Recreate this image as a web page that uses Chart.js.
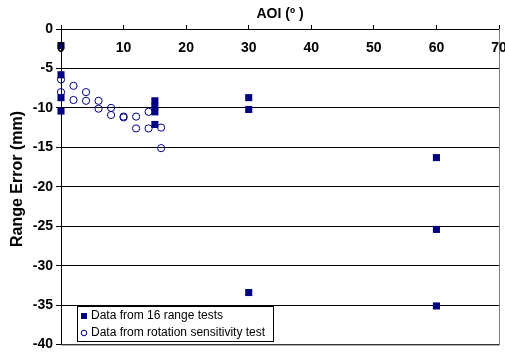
<!DOCTYPE html>
<html>
<head>
<meta charset="utf-8">
<script src="https://cdn.jsdelivr.net/npm/chart.js@4"></script>
<style>
  body { margin: 0; background: #fff; }
</style>
</head>
<body>
<canvas id="errChart" width="505" height="356"></canvas>
<script>
// data
const rangeAOI = [0, 0, 0, 0, 15, 15, 15, 15, 30, 30, 30, 60, 60, 60];
const rangeErr = [-2.1, -5.8, -8.7, -10.4, -9.1, -9.9, -10.5, -12.1, -8.7, -10.2, -33.4, -16.3, -25.4, -35.1];

const rotAOI = [0, 0, 2, 2, 4, 4, 6, 6, 8, 8, 10, 10, 12, 12, 14, 14, 16, 16];
const rotErr = [-6.4, -8.0, -7.2, -9.0, -8.0, -9.1, -9.1, -10.1, -10.0, -10.9, -11.1, -11.2, -11.1, -12.6, -10.5, -12.6, -12.5, -15.1];

const xTicks = [0, 10, 20, 30, 40, 50, 60, 70];
const legendLabels = ["Data from 16 range tests", "Data from rotation sensitivity test"];

const navy = "#000080";
const fontFam = "'Liberation Sans', Arial, sans-serif";

function toPoints(xs, ys) {
  return xs.map((x, i) => ({ x: x, y: ys[i] }));
}

// x labels sit under the top axis line, y title, frame and the floating legend
const extras = {
  id: "extras",
  beforeDatasetsDraw(chart) {
    const ctx = chart.ctx;
    const a = chart.chartArea;
    ctx.save();
    ctx.strokeStyle = "#808080";
    ctx.lineWidth = 1;
    ctx.beginPath();
    ctx.moveTo(a.right + 0.5, a.top);
    ctx.lineTo(a.right + 0.5, a.bottom + 0.5);
    ctx.lineTo(a.left, a.bottom + 0.5);
    ctx.stroke();
    ctx.restore();
  },
  afterDraw(chart) {
    const ctx = chart.ctx;
    const xs = chart.scales.x;
    const a = chart.chartArea;
    ctx.save();
    ctx.fillStyle = "#000";
    ctx.font = "bold 14px " + fontFam;
    ctx.textAlign = "center";
    ctx.textBaseline = "middle";
    xTicks.forEach(v => {
      ctx.fillText(String(v), xs.getPixelForValue(v), a.top + 19);
    });

    // y title
    ctx.save();
    ctx.translate(18, 179);
    ctx.rotate(-Math.PI / 2);
    ctx.font = "bold 16px " + fontFam;
    ctx.fillText("Range Error (mm)", 0, 0);
    ctx.restore();

    // legend box
    const lx = 77, ly = 306, lw = 196, lh = 35;
    ctx.fillStyle = "#fff";
    ctx.fillRect(lx, ly, lw, lh);
    ctx.strokeStyle = "#000";
    ctx.lineWidth = 1;
    ctx.strokeRect(lx + 0.5, ly + 0.5, lw, lh);
    ctx.font = "12px " + fontFam;
    ctx.textAlign = "left";
    ctx.fillStyle = "#000";
    ctx.fillText(legendLabels[0], 91, ly + 10);
    ctx.fillText(legendLabels[1], 91, ly + 27);
    ctx.fillStyle = navy;
    ctx.fillRect(81, ly + 7, 6, 6);
    ctx.strokeStyle = navy;
    ctx.beginPath();
    ctx.arc(84, ly + 27, 2.8, 0, Math.PI * 2);
    ctx.stroke();
    ctx.restore();
  }
};

new Chart(document.getElementById("errChart"), {
  type: "scatter",
  data: {
    datasets: [
      {
        label: legendLabels[0],
        data: toPoints(rangeAOI, rangeErr),
        pointStyle: "rect",
        pointRadius: 5,
        backgroundColor: navy,
        borderColor: navy,
        borderWidth: 0,
        clip: false,
      },
      {
        label: legendLabels[1],
        data: toPoints(rotAOI, rotErr),
        pointStyle: "circle",
        pointRadius: 3.6,
        backgroundColor: "rgba(255,255,255,0)",
        borderColor: navy,
        borderWidth: 1,
        clip: false,
      },
    ],
  },
  options: {
    responsive: false,
    animation: false,
    layout: { padding: { left: 0, right: 6, top: 0, bottom: 10 } },
    plugins: {
      legend: { display: false },
      tooltip: { enabled: false },
    },
    scales: {
      x: {
        type: "linear",
        position: "top",
        min: 0,
        max: 70,
        afterFit: (s) => { s.height = 29; },
        ticks: { stepSize: 10, display: false },
        grid: {
          drawOnChartArea: false,
          drawTicks: true,
          tickLength: 4,
          color: "#000",
        },
        border: { color: "#000", width: 1 },
        title: {
          display: true,
          text: "AOI (º )",
          color: "#000",
          font: { family: fontFam, size: 14, weight: "bold" },
          padding: { top: 6, bottom: 0 },
        },
      },
      y: {
        min: -40,
        max: 0,
        afterFit: (s) => { s.width = 61; },
        ticks: {
          stepSize: 5,
          color: "#000",
          padding: 3,
          font: { family: fontFam, size: 14, weight: "bold" },
        },
        grid: {
          color: "#000",
          tickLength: 5,
        },
        border: { color: "#000", width: 1 },
      },
    },
  },
  plugins: [extras],
});
</script>
</body>
</html>
